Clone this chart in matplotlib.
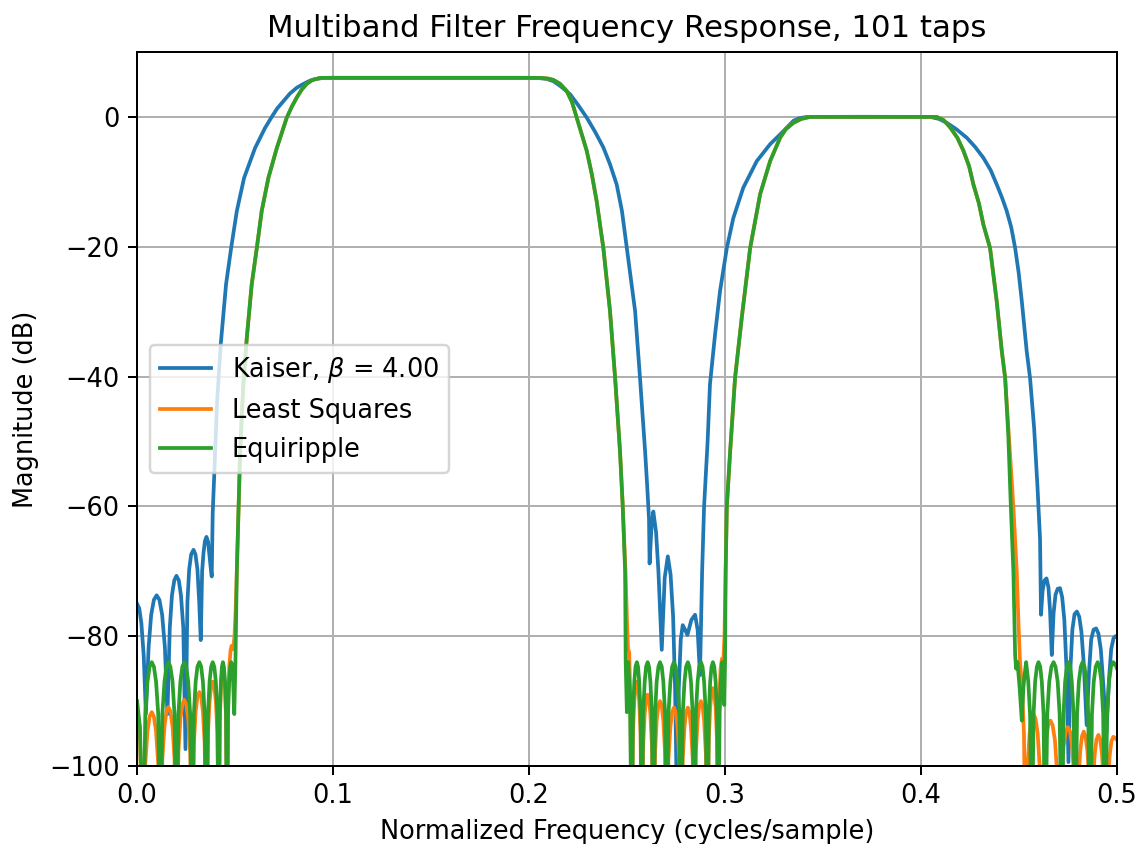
import matplotlib
matplotlib.use("Agg")
import matplotlib.pyplot as plt

# ── Data: (normalized frequency, magnitude dB) ────────────────────────────────
# Kaiser window design, beta = 4.00
kaiser_pts = [
    # left stopband
    (0.0000, -75.0), (0.0011, -75.7), (0.0022, -78.0), (0.0034, -83.0), (0.0045, -92.0),
    (0.0059, -81.7), (0.0072, -76.7), (0.0086, -74.4), (0.0100, -73.7), (0.0114, -74.4), (0.0128, -76.7),
    (0.0142, -81.7), (0.0155, -92.0),
    (0.0167, -78.7), (0.0178, -73.7), (0.0190, -71.4), (0.0201, -70.7), (0.0213, -71.4), (0.0224, -73.7),
    (0.0236, -78.7), (0.0247, -97.4),
    (0.0257, -74.7), (0.0266, -69.7), (0.0276, -67.4), (0.0288, -66.7), (0.0298, -67.4), (0.0308, -69.7),
    (0.0317, -74.7), (0.0325, -80.6),
    (0.0332, -70.0), (0.0339, -67.2), (0.0346, -65.4), (0.0354, -64.7), (0.0362, -65.4), (0.0369, -67.5),
    (0.0376, -69.5), (0.0381, -70.8),
    # first passband (gain 2)
    (0.0386, -61.0), (0.0394, -55.0), (0.0408, -44.0), (0.0427, -35.0), (0.0454, -25.8), (0.0480, -20.2),
    (0.0509, -14.5), (0.0546, -9.4), (0.0602, -4.8), (0.0653, -1.7), (0.0687, 0.0), (0.0715, 1.3),
    (0.0746, 2.4), (0.0780, 3.6), (0.0815, 4.5), (0.0850, 5.1), (0.0883, 5.6), (0.0915, 5.85),
    (0.0949, 6.0), (0.0985, 6.02), (0.1200, 6.02), (0.1500, 6.02), (0.1800, 6.02), (0.1954, 6.02),
    (0.2050, 5.98), (0.2090, 5.85), (0.2124, 5.5), (0.2158, 4.8), (0.2209, 3.5), (0.2251, 1.8),
    (0.2294, -0.1), (0.2337, -2.3), (0.2379, -4.7), (0.2413, -7.3), (0.2447, -10.4), (0.2474, -14.5),
    (0.2499, -20.2), (0.2541, -29.9), (0.2566, -40.2), (0.2592, -51.5), (0.2603, -57.0),
    # middle stopband
    (0.2612, -62.0), (0.2615, -68.8), (0.2625, -63.0), (0.2634, -60.8), (0.2648, -64.0), (0.2660, -70.0),
    (0.2677, -82.1), (0.2692, -71.0), (0.2708, -67.7), (0.2722, -70.5), (0.2735, -77.0), (0.2745, -88.0),
    (0.2754, -105.0), (0.2764, -88.0), (0.2774, -80.5), (0.2784, -78.3), (0.2796, -79.0), (0.2808, -79.8),
    (0.2828, -77.5), (0.2847, -76.7), (0.2860, -79.0), (0.2872, -86.0),
    # second passband (gain 1)
    (0.2883, -70.0), (0.2893, -60.0), (0.2911, -50.0), (0.2923, -41.2), (0.2949, -33.5), (0.2974, -26.9),
    (0.3009, -20.2), (0.3042, -15.6), (0.3093, -10.9), (0.3162, -6.8), (0.3230, -4.2), (0.3281, -2.7),
    (0.3349, -0.6), (0.3380, -0.2), (0.3417, 0.0), (0.3700, 0.02), (0.4046, 0.0), (0.4090, -0.3),
    (0.4131, -0.9), (0.4180, -1.9), (0.4233, -3.2), (0.4275, -4.6), (0.4318, -6.3), (0.4355, -8.2),
    (0.4386, -10.4), (0.4415, -12.6), (0.4437, -14.5), (0.4460, -17.0), (0.4480, -20.2), (0.4498, -24.0),
    (0.4514, -28.4), (0.4539, -36.1), (0.4556, -40.2), (0.4577, -48.0), (0.4594, -57.0), (0.4607, -65.0),
    # right stopband
    (0.4612, -76.7), (0.4620, -73.0), (0.4630, -71.4), (0.4640, -71.1), (0.4650, -72.5), (0.4658, -76.0),
    (0.4667, -82.9), (0.4676, -76.5), (0.4686, -73.6), (0.4697, -72.7), (0.4709, -72.6), (0.4720, -74.0),
    (0.4731, -77.5), (0.4742, -85.0), (0.4752, -99.4), (0.4762, -85.0), (0.4772, -79.0), (0.4783, -76.6),
    (0.4795, -76.2), (0.4807, -77.0), (0.4818, -79.3), (0.4830, -84.2), (0.4845, -93.7), (0.4857, -85.5),
    (0.4868, -80.5), (0.4880, -79.0), (0.4893, -78.8), (0.4905, -79.6), (0.4917, -82.0), (0.4930, -87.5),
    (0.4946, -95.0), (0.4958, -87.0), (0.4970, -82.0), (0.4982, -80.3), (0.4992, -80.0), (0.5000, -80.2),
]

# transition bands / passbands where least squares and equiripple overlap
edge_band1 = [
    (0.0526, -51.5), (0.0542, -41.3), (0.0560, -34.0), (0.0585, -25.8), (0.0611, -20.2),
    (0.0636, -14.5), (0.0670, -9.4), (0.0713, -4.8), (0.0764, -0.1), (0.0790, 1.6), (0.0815, 3.0),
    (0.0840, 4.2), (0.0866, 5.1), (0.0895, 5.7), (0.0934, 6.0), (0.0970, 6.02), (0.1200, 6.02),
    (0.1500, 6.02), (0.1800, 6.02), (0.2000, 6.02), (0.2060, 6.0), (0.2097, 5.9), (0.2124, 5.7),
    (0.2158, 5.1), (0.2192, 4.0), (0.2219, 2.3), (0.2243, -0.1), (0.2294, -5.2), (0.2320, -8.8),
    (0.2345, -13.0), (0.2379, -20.2), (0.2413, -29.9), (0.2439, -40.2), (0.2464, -51.5), (0.2478, -60.0),
]
edge_band2 = [
    (0.3026, -51.5), (0.3051, -40.2), (0.3085, -31.0), (0.3128, -20.2), (0.3179, -11.9),
    (0.3230, -6.8), (0.3281, -3.2), (0.3310, -1.9), (0.3349, -0.9), (0.3390, -0.3), (0.3434, 0.0),
    (0.3700, 0.0), (0.4080, 0.0), (0.4115, -0.5), (0.4148, -1.6), (0.4185, -3.2), (0.4216, -5.2),
    (0.4245, -7.6), (0.4267, -10.4), (0.4295, -13.3), (0.4318, -16.6), (0.4352, -20.2), (0.4386, -28.4),
    (0.4412, -36.1), (0.4429, -40.2),
]

# Equiripple stopbands
eq_stop1 = [
    (0.0000, -90.0), (0.0015, -94.0), (0.0031, -115.0),
    (0.0042, -92.0), (0.0053, -87.0), (0.0064, -84.7), (0.0075, -84.0), (0.0086, -84.7), (0.0097, -87.0),
    (0.0108, -92.0), (0.0119, -115.0),
    (0.0129, -92.0), (0.0140, -87.0), (0.0150, -84.7), (0.0160, -84.0), (0.0170, -84.7), (0.0181, -87.0),
    (0.0191, -92.0), (0.0201, -115.0),
    (0.0211, -92.0), (0.0221, -87.0), (0.0231, -84.7), (0.0241, -84.0), (0.0251, -84.7), (0.0261, -87.0),
    (0.0271, -92.0), (0.0281, -115.0),
    (0.0290, -92.0), (0.0299, -87.0), (0.0308, -84.7), (0.0318, -84.0), (0.0327, -84.7), (0.0336, -87.0),
    (0.0345, -92.0), (0.0354, -115.0),
    (0.0362, -92.0), (0.0370, -87.0), (0.0378, -84.7), (0.0386, -84.0), (0.0394, -84.7), (0.0402, -87.0),
    (0.0410, -92.0), (0.0417, -115.0),
    (0.0422, -92.0), (0.0428, -87.0), (0.0433, -84.7), (0.0438, -84.0), (0.0443, -84.7), (0.0449, -87.0),
    (0.0454, -92.0), (0.0459, -115.0),
    (0.0464, -92.0), (0.0470, -87.0), (0.0475, -84.7), (0.0480, -84.0), (0.0487, -84.5), (0.0496, -92.0),
    (0.0502, -84.0), (0.0509, -70.0),
]
eq_stop2 = [
    (0.2490, -70.0), (0.2493, -84.0), (0.2499, -91.7), (0.2506, -84.0), (0.2515, -89.0), (0.2524, -115.0),
    (0.2530, -92.0), (0.2537, -87.0), (0.2543, -84.7), (0.2550, -84.0), (0.2556, -84.7), (0.2562, -87.0),
    (0.2569, -92.0), (0.2575, -115.0),
    (0.2582, -92.0), (0.2590, -87.0), (0.2597, -84.7), (0.2605, -84.0), (0.2612, -84.7), (0.2619, -87.0),
    (0.2627, -92.0), (0.2634, -115.0),
    (0.2643, -92.0), (0.2651, -87.0), (0.2660, -84.7), (0.2668, -84.0), (0.2677, -84.7), (0.2685, -87.0),
    (0.2694, -92.0), (0.2702, -115.0),
    (0.2711, -92.0), (0.2721, -87.0), (0.2730, -84.7), (0.2739, -84.0), (0.2748, -84.7), (0.2758, -87.0),
    (0.2767, -92.0), (0.2776, -115.0),
    (0.2784, -92.0), (0.2793, -87.0), (0.2801, -84.7), (0.2810, -84.0), (0.2818, -84.7), (0.2826, -87.0),
    (0.2835, -92.0), (0.2843, -115.0),
    (0.2851, -92.0), (0.2860, -87.0), (0.2868, -84.7), (0.2877, -84.0), (0.2885, -84.7), (0.2893, -87.0),
    (0.2902, -92.0), (0.2910, -115.0),
    (0.2917, -92.0), (0.2924, -87.0), (0.2931, -84.7), (0.2938, -84.0), (0.2945, -84.7), (0.2952, -87.0),
    (0.2959, -92.0), (0.2966, -115.0),
    (0.2972, -92.0), (0.2978, -87.0), (0.2986, -84.0), (0.2992, -86.0), (0.2996, -90.6), (0.3000, -84.0),
    (0.3003, -70.0), (0.3009, -60.0),
]
eq_stop3 = [
    (0.4445, -49.0), (0.4458, -60.0), (0.4471, -70.0), (0.4480, -83.0), (0.4485, -85.0), (0.4492, -84.0),
    (0.4503, -88.0), (0.4514, -93.0), (0.4522, -88.0), (0.4528, -86.0), (0.4536, -84.0), (0.4547, -87.0),
    (0.4556, -92.0), (0.4565, -115.0),
    (0.4574, -92.0), (0.4582, -87.0), (0.4591, -84.7), (0.4599, -84.0), (0.4608, -84.7), (0.4616, -87.0),
    (0.4625, -92.0), (0.4633, -115.0),
    (0.4644, -92.0), (0.4654, -87.0), (0.4665, -84.7), (0.4676, -84.0), (0.4686, -84.7), (0.4697, -87.0),
    (0.4707, -92.0), (0.4718, -115.0),
    (0.4727, -92.0), (0.4735, -87.0), (0.4744, -84.7), (0.4752, -84.0), (0.4761, -84.7), (0.4769, -87.0),
    (0.4778, -92.0), (0.4786, -115.0),
    (0.4796, -92.0), (0.4805, -87.0), (0.4815, -84.7), (0.4824, -84.0), (0.4834, -84.7), (0.4843, -87.0),
    (0.4853, -92.0), (0.4862, -115.0),
    (0.4872, -92.0), (0.4881, -87.0), (0.4891, -84.7), (0.4901, -84.0), (0.4910, -84.7), (0.4920, -87.0),
    (0.4929, -92.0), (0.4939, -115.0),
    (0.4949, -92.0), (0.4959, -87.0), (0.4969, -84.7), (0.4980, -84.0), (0.4990, -84.3), (0.5000, -85.0),
]

# Least squares stopbands
ls_stop1 = [
    (0.0000, -92.0), (0.0015, -96.0), (0.0031, -115.0),
    (0.0042, -99.7), (0.0053, -94.7), (0.0064, -92.4), (0.0075, -91.7), (0.0086, -92.4), (0.0097, -94.7),
    (0.0108, -99.7), (0.0119, -115.0),
    (0.0129, -98.9), (0.0140, -93.9), (0.0150, -91.6), (0.0160, -90.9), (0.0170, -91.6), (0.0181, -93.9),
    (0.0191, -98.9), (0.0201, -115.0),
    (0.0211, -97.8), (0.0221, -92.8), (0.0231, -90.5), (0.0241, -89.8), (0.0251, -90.5), (0.0261, -92.8),
    (0.0271, -97.8), (0.0281, -115.0),
    (0.0290, -96.6), (0.0299, -91.6), (0.0308, -89.3), (0.0318, -88.6), (0.0327, -89.3), (0.0336, -91.6),
    (0.0345, -96.6), (0.0354, -115.0),
    (0.0362, -95.0), (0.0370, -90.0), (0.0378, -87.7), (0.0386, -87.0), (0.0394, -87.7), (0.0402, -90.0),
    (0.0410, -95.0), (0.0417, -115.0),
    (0.0422, -93.0), (0.0428, -88.0), (0.0433, -85.7), (0.0438, -85.0), (0.0443, -85.7), (0.0449, -88.0),
    (0.0454, -93.0), (0.0459, -115.0),
    (0.0465, -89.0), (0.0471, -84.5), (0.0477, -82.2), (0.0482, -81.5), (0.0490, -82.0), (0.0497, -80.0),
    (0.0503, -76.0), (0.0509, -70.0),
]
ls_stop2 = [
    (0.2492, -70.0), (0.2500, -78.0), (0.2505, -82.0), (0.2511, -82.5), (0.2517, -90.0), (0.2524, -115.0),
    (0.2530, -95.0), (0.2537, -90.0), (0.2543, -87.7), (0.2550, -87.0), (0.2556, -87.7), (0.2562, -90.0),
    (0.2569, -95.0), (0.2575, -115.0),
    (0.2582, -97.0), (0.2590, -92.0), (0.2597, -89.7), (0.2605, -89.0), (0.2612, -89.7), (0.2619, -92.0),
    (0.2627, -97.0), (0.2634, -115.0),
    (0.2643, -98.0), (0.2651, -93.0), (0.2660, -90.7), (0.2668, -90.0), (0.2677, -90.7), (0.2685, -93.0),
    (0.2694, -98.0), (0.2702, -115.0),
    (0.2711, -99.0), (0.2721, -94.0), (0.2730, -91.7), (0.2739, -91.0), (0.2748, -91.7), (0.2758, -94.0),
    (0.2767, -99.0), (0.2776, -115.0),
    (0.2784, -99.0), (0.2793, -94.0), (0.2801, -91.7), (0.2810, -91.0), (0.2818, -91.7), (0.2826, -94.0),
    (0.2835, -99.0), (0.2843, -115.0),
    (0.2851, -98.0), (0.2860, -93.0), (0.2868, -90.7), (0.2877, -90.0), (0.2885, -90.7), (0.2893, -93.0),
    (0.2902, -98.0), (0.2910, -115.0),
    (0.2917, -96.0), (0.2924, -91.0), (0.2931, -88.7), (0.2938, -88.0), (0.2945, -88.7), (0.2952, -91.0),
    (0.2959, -96.0), (0.2966, -115.0),
    (0.2971, -90.0), (0.2977, -85.0), (0.2984, -83.5), (0.2991, -84.0), (0.2997, -80.0), (0.3003, -70.0),
    (0.3009, -60.0),
]
ls_stop3 = [
    (0.4450, -50.0), (0.4471, -60.0), (0.4488, -70.0), (0.4497, -78.0), (0.4505, -84.0), (0.4515, -88.0),
    (0.4525, -95.0), (0.4533, -115.0),
    (0.4543, -100.0), (0.4554, -95.0), (0.4564, -92.7), (0.4574, -92.0), (0.4584, -92.7), (0.4595, -95.0),
    (0.4605, -100.0), (0.4615, -115.0),
    (0.4626, -101.0), (0.4637, -96.0), (0.4649, -93.7), (0.4660, -93.0), (0.4671, -93.7), (0.4683, -96.0),
    (0.4694, -101.0), (0.4705, -115.0),
    (0.4716, -102.0), (0.4727, -97.0), (0.4738, -94.7), (0.4749, -94.0), (0.4760, -94.7), (0.4771, -97.0),
    (0.4782, -102.0), (0.4793, -115.0),
    (0.4802, -102.7), (0.4812, -97.7), (0.4821, -95.4), (0.4830, -94.7), (0.4839, -95.4), (0.4849, -97.7),
    (0.4858, -102.7), (0.4867, -115.0),
    (0.4876, -103.2), (0.4886, -98.2), (0.4895, -95.9), (0.4905, -95.2), (0.4914, -95.9), (0.4923, -98.2),
    (0.4933, -103.2), (0.4942, -115.0),
    (0.4952, -103.5), (0.4962, -98.5), (0.4971, -96.2), (0.4981, -95.5), (0.4991, -95.7), (0.5000, -96.0),
]

labels = [r"Kaiser, $\beta$ = 4.00", "Least Squares", "Equiripple"]


def unzip(pts):
    pts = sorted(pts)
    return [p[0] for p in pts], [p[1] for p in pts]


ls_pts = ls_stop1 + edge_band1 + ls_stop2 + edge_band2 + ls_stop3
eq_pts = eq_stop1 + edge_band1 + eq_stop2 + edge_band2 + eq_stop3

plt.rcParams["font.size"] = 10.3

DPI = 179
fig = plt.figure(figsize=(1145 / DPI, 844 / DPI), dpi=DPI)
ax = fig.add_axes([0.1197, 0.0924, 0.8559, 0.846])

for pts, lab in zip([kaiser_pts, ls_pts, eq_pts], labels):
    f, db = unzip(pts)
    ax.plot(f, db, label=lab)

ax.set_xlim(0, 0.5)
ax.set_ylim(-100, 10)
ax.grid(True)
ax.set_title("Multiband Filter Frequency Response, 101 taps")
ax.set_xlabel("Normalized Frequency (cycles/sample)")
ax.set_ylabel("Magnitude (dB)")
ax.legend(loc="center left")

fig.savefig("out.png", dpi=DPI)
